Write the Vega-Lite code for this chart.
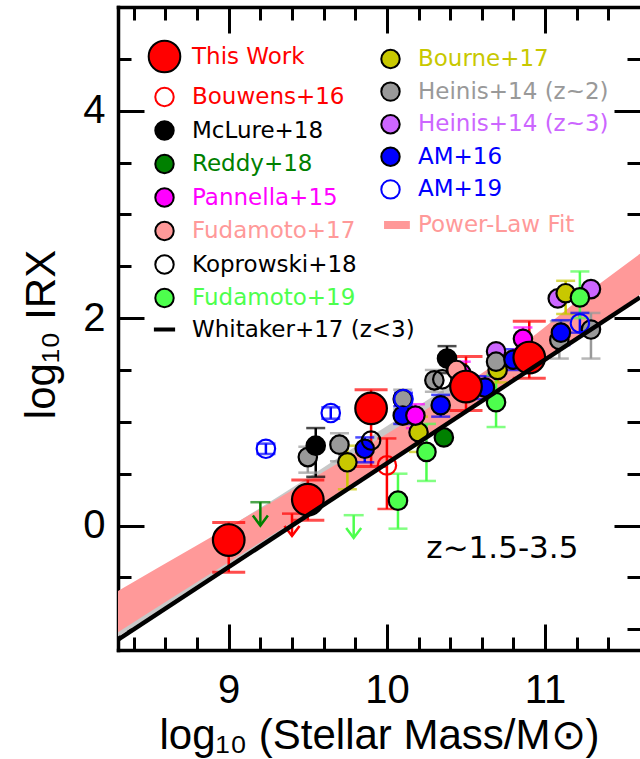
{
  "$schema": "https://vega.github.io/schema/vega-lite/v6.json",
  "width": 522,
  "height": 643,
  "autosize": {"type": "none"},
  "padding": {"left": 118, "top": 7, "right": 0, "bottom": 109},
  "background": "white",
  "config": {
    "view": {"stroke": null},
    "axis": {"grid": false, "labelColor": "black", "titleColor": "black", "tickColor": "black", "domainColor": "black", "zindex": 1}
  },
  "datasets": {
    "pts": [
      {"series": "Heinis+14 (z~3)", "mass": 10.69, "irx": 1.68},
      {"series": "Heinis+14 (z~3)", "mass": 11.08, "irx": 2.19},
      {"series": "Heinis+14 (z~3)", "mass": 11.29, "irx": 2.28},
      {"series": "Bourne+17", "mass": 9.75, "irx": 0.61, "lo": 0.35, "hi": 0.77},
      {"series": "Bourne+17", "mass": 10.2, "irx": 0.9, "lo": 0.71, "hi": 1.05},
      {"series": "Bourne+17", "mass": 10.7, "irx": 1.5, "lo": 1.38, "hi": 1.62},
      {"series": "Bourne+17", "mass": 11.13, "irx": 2.24, "lo": 2.04, "hi": 2.36},
      {"series": "Heinis+14 (z~2)", "mass": 9.5, "irx": 0.66, "lo": 0.51, "hi": 0.76},
      {"series": "Heinis+14 (z~2)", "mass": 9.7, "irx": 0.78, "lo": 0.62, "hi": 0.89},
      {"series": "Heinis+14 (z~2)", "mass": 10.1, "irx": 1.22, "lo": 1.12, "hi": 1.31},
      {"series": "Heinis+14 (z~2)", "mass": 10.3, "irx": 1.4, "lo": 1.29, "hi": 1.5},
      {"series": "Heinis+14 (z~2)", "mass": 10.69, "irx": 1.58, "lo": 1.47, "hi": 1.69},
      {"series": "Heinis+14 (z~2)", "mass": 11.09, "irx": 1.79, "lo": 1.61, "hi": 1.97},
      {"series": "Heinis+14 (z~2)", "mass": 11.29, "irx": 1.89, "lo": 1.61, "hi": 2.05},
      {"series": "AM+16", "mass": 9.86, "irx": 0.74, "lo": 0.61, "hi": 0.85},
      {"series": "AM+16", "mass": 10.1, "irx": 1.06, "lo": 0.98, "hi": 1.15},
      {"series": "AM+16", "mass": 10.34, "irx": 1.16, "lo": 1.05, "hi": 1.26},
      {"series": "AM+16", "mass": 10.62, "irx": 1.33, "lo": 1.22, "hi": 1.44},
      {"series": "AM+16", "mass": 10.8, "irx": 1.6, "lo": 1.5, "hi": 1.7},
      {"series": "AM+16", "mass": 11.1, "irx": 1.86, "lo": 1.74, "hi": 1.98},
      {"series": "AM+19", "mass": 9.235, "irx": 0.74, "lo": 0.69, "hi": 0.79},
      {"series": "AM+19", "mass": 9.645, "irx": 1.085, "lo": 1.03, "hi": 1.14},
      {"series": "AM+19", "mass": 10.105, "irx": 1.22, "lo": 1.16, "hi": 1.28},
      {"series": "AM+19", "mass": 11.22, "irx": 1.95, "lo": 1.86, "hi": 2.05},
      {"series": "Koprowski+18", "mass": 9.9, "irx": 0.82},
      {"series": "Koprowski+18", "mass": 10.35, "irx": 1.41},
      {"series": "McLure+18", "mass": 9.55, "irx": 0.77, "lo": 0.47, "hi": 0.94},
      {"series": "McLure+18", "mass": 10.38, "irx": 1.61, "lo": 1.47, "hi": 1.73},
      {"series": "Reddy+18", "mass": 10.36, "irx": 0.85},
      {"series": "Pannella+15", "mass": 10.18, "irx": 1.06, "lo": 0.94, "hi": 1.17},
      {"series": "Pannella+15", "mass": 10.47, "irx": 1.47, "lo": 1.36, "hi": 1.58},
      {"series": "Pannella+15", "mass": 10.86, "irx": 1.8, "lo": 1.7, "hi": 1.91},
      {"series": "Fudamoto+17", "mass": 10.44, "irx": 1.5},
      {"series": "Bouwens+16", "mass": 10.0, "irx": 0.58, "lo": 0.16, "hi": 0.84},
      {"series": "Fudamoto+19", "mass": 10.07, "irx": 0.24, "lo": -0.03, "hi": 0.5},
      {"series": "Fudamoto+19", "mass": 10.25, "irx": 0.71, "lo": 0.43, "hi": 0.98},
      {"series": "Fudamoto+19", "mass": 10.69, "irx": 1.19, "lo": 0.95, "hi": 1.45},
      {"series": "Fudamoto+19", "mass": 11.22, "irx": 2.2, "lo": 2.0, "hi": 2.45},
      {"series": "This Work", "mass": 9.0, "irx": -0.14, "lo": -0.45, "hi": 0.03},
      {"series": "This Work", "mass": 9.5, "irx": 0.25, "lo": 0.05, "hi": 0.44},
      {"series": "This Work", "mass": 9.9, "irx": 1.13, "lo": 0.57, "hi": 1.31},
      {"series": "This Work", "mass": 10.5, "irx": 1.34, "lo": 1.11, "hi": 1.63},
      {"series": "This Work", "mass": 10.9, "irx": 1.62, "lo": 1.42, "hi": 1.97}
    ],
    "limits": [
      {"series": "Reddy+18", "mass": 9.2, "cap": 0.225, "tip": 0.0},
      {"series": "Bouwens+16", "mass": 9.4, "cap": 0.115, "tip": -0.1},
      {"series": "Fudamoto+19", "mass": 9.79, "cap": 0.1, "tip": -0.12}
    ],
    "pink": [
      {"mass": 8.3, "lo": -1.03, "hi": -0.63},
      {"mass": 8.8, "lo": -0.545, "hi": -0.19},
      {"mass": 9.3, "lo": -0.065, "hi": 0.25},
      {"mass": 9.8, "lo": 0.415, "hi": 0.7},
      {"mass": 10.3, "lo": 0.905, "hi": 1.17},
      {"mass": 10.8, "lo": 1.405, "hi": 1.68},
      {"mass": 11.3, "lo": 1.915, "hi": 2.28},
      {"mass": 11.6, "lo": 2.225, "hi": 2.62}
    ],
    "gray": [
      {"mass": 8.3, "lo": -1.07, "hi": -0.7},
      {"mass": 9.0, "lo": -0.41, "hi": -0.02},
      {"mass": 9.5, "lo": 0.09, "hi": 0.46},
      {"mass": 9.9, "lo": 0.49, "hi": 0.86},
      {"mass": 10.45, "lo": 1.06, "hi": 1.4}
    ],
    "whitaker": [
      {"mass": 8.3, "irx": -1.1},
      {"mass": 11.6, "irx": 2.2}
    ],
    "notes": [
      {"text": "z~1.5-3.5", "mass": 10.73, "irx": -0.31}
    ]
  },
  "layer": [
    {
      "data": {"name": "gray"},
      "mark": {"type": "area", "color": "#c8c8c8", "clip": true, "interpolate": "monotone"},
      "encoding": {
        "x": {"field": "mass", "type": "quantitative", "scale": {"domain": [8.3, 11.6], "nice": false, "zero": false},
          "axis": {"orient": "bottom", "values": [9, 10, 11], "format": "d", "ticks": false, "domain": true, "domainWidth": 3.5, "domainCap": "square",
            "labelFont": "Liberation Sans", "labelFontSize": 40, "labelPadding": 20, "labelFlush": false, "labelOverlap": false, "labelBound": false,
            "title": "log₁₀ (Stellar Mass/M⊙)", "titleFont": "Liberation Sans", "titleFontSize": 42, "titleFontWeight": "normal", "titlePadding": 5}},
        "y": {"field": "lo", "type": "quantitative", "scale": {"domain": [-1.2, 5], "nice": false, "zero": false},
          "axis": {"orient": "left", "values": [0, 2, 4], "format": "d", "ticks": false, "domain": true, "domainWidth": 3.5, "domainCap": "square",
            "labelFont": "Liberation Sans", "labelFontSize": 40, "labelPadding": 13, "labelFlush": false, "labelOverlap": false, "labelBound": false,
            "title": "log₁₀ IRX", "titleFont": "Liberation Sans", "titleFontSize": 42, "titleFontWeight": "normal", "titlePadding": 19, "titleY": 327}},
        "y2": {"field": "hi"}
      }
    },
    {
      "data": {"name": "pink"},
      "mark": {"type": "area", "color": "#ff9999", "clip": true, "interpolate": "monotone"},
      "encoding": {
        "x": {"field": "mass", "type": "quantitative", "scale": {"domain": [8.3, 11.6], "nice": false, "zero": false},
          "axis": {"orient": "bottom", "values": [9, 10, 11], "labels": false, "domain": false, "ticks": true, "tickSize": -26, "tickWidth": 3, "title": null}},
        "y": {"field": "lo", "type": "quantitative", "scale": {"domain": [-1.2, 5], "nice": false, "zero": false},
          "axis": {"orient": "left", "values": [0, 2, 4], "labels": false, "domain": false, "ticks": true, "tickSize": -26, "tickWidth": 3, "title": null}},
        "y2": {"field": "hi"}
      }
    },
    {
      "data": {"name": "pts"},
      "transform": [{"filter": "isValid(datum.lo)"}],
      "mark": {"type": "rule", "strokeWidth": 2.5},
      "encoding": {
        "x": {"field": "mass", "type": "quantitative", "scale": {"domain": [8.3, 11.6], "nice": false, "zero": false},
          "axis": {"orient": "bottom", "values": [8.4, 8.6, 8.8, 9.2, 9.4, 9.6, 9.8, 10.2, 10.4, 10.6, 10.8, 11.2, 11.4], "labels": false, "domain": false, "ticks": true, "tickSize": -13, "tickWidth": 3, "title": null}},
        "y": {"field": "lo", "type": "quantitative", "scale": {"domain": [-1.2, 5], "nice": false, "zero": false},
          "axis": {"orient": "left", "values": [-1, -0.5, 0.5, 1, 1.5, 2.5, 3, 3.5, 4.5], "labels": false, "domain": false, "ticks": true, "tickSize": -13, "tickWidth": 3, "title": null}},
        "y2": {"field": "hi"},
        "color": {"field": "series", "type": "nominal", "legend": null,
          "scale": {"domain": ["This Work", "Bouwens+16", "McLure+18", "Reddy+18", "Pannella+15", "Fudamoto+17", "Koprowski+18", "Fudamoto+19", "Bourne+17", "Heinis+14 (z~2)", "Heinis+14 (z~3)", "AM+16", "AM+19"],
            "range": ["#ff0000", "#ff0000", "#000000", "#008000", "#ff00ff", "#ff9999", "#000000", "#4dff4d", "#c8c800", "#999999", "#cc66ff", "#0000ff", "#0000ff"]}}
      }
    },
    {
      "data": {"name": "pts"},
      "transform": [{"filter": "datum.series !== 'This Work'"}, {"fold": ["lo", "hi"], "as": ["end", "val"]}, {"filter": "isValid(datum.val)"}],
      "mark": {"type": "tick", "orient": "horizontal", "size": 19, "thickness": 2.5},
      "encoding": {
        "x": {"field": "mass", "type": "quantitative", "scale": {"domain": [8.3, 11.6], "nice": false, "zero": false},
          "axis": {"orient": "top", "values": [9, 10, 11], "labels": false, "domain": true, "domainWidth": 3.5, "domainCap": "square", "ticks": true, "tickSize": -26, "tickWidth": 3, "title": null}},
        "y": {"field": "val", "type": "quantitative", "scale": {"domain": [-1.2, 5], "nice": false, "zero": false},
          "axis": {"orient": "right", "values": [0, 2, 4], "labels": false, "domain": false, "ticks": true, "tickSize": -26, "tickWidth": 3, "title": null}},
        "color": {"field": "series", "type": "nominal", "legend": null,
          "scale": {"domain": ["This Work", "Bouwens+16", "McLure+18", "Reddy+18", "Pannella+15", "Fudamoto+17", "Koprowski+18", "Fudamoto+19", "Bourne+17", "Heinis+14 (z~2)", "Heinis+14 (z~3)", "AM+16", "AM+19"],
            "range": ["#ff0000", "#ff0000", "#000000", "#008000", "#ff00ff", "#ff9999", "#000000", "#4dff4d", "#c8c800", "#999999", "#cc66ff", "#0000ff", "#0000ff"]}}
      }
    },
    {
      "data": {"name": "pts"},
      "transform": [{"filter": "datum.series === 'This Work'"}, {"fold": ["lo", "hi"], "as": ["end", "val"]}, {"filter": "isValid(datum.val)"}],
      "mark": {"type": "tick", "orient": "horizontal", "size": 33, "thickness": 3},
      "encoding": {
        "x": {"field": "mass", "type": "quantitative", "scale": {"domain": [8.3, 11.6], "nice": false, "zero": false},
          "axis": {"orient": "top", "values": [8.4, 8.6, 8.8, 9.2, 9.4, 9.6, 9.8, 10.2, 10.4, 10.6, 10.8, 11.2, 11.4], "labels": false, "domain": false, "ticks": true, "tickSize": -13, "tickWidth": 3, "title": null}},
        "y": {"field": "val", "type": "quantitative", "scale": {"domain": [-1.2, 5], "nice": false, "zero": false},
          "axis": {"orient": "right", "values": [-1, -0.5, 0.5, 1, 1.5, 2.5, 3, 3.5, 4.5], "labels": false, "domain": false, "ticks": true, "tickSize": -13, "tickWidth": 3, "title": null}},
        "color": {"value": "#ff0000"}
      }
    },
    {
      "data": {"name": "limits"},
      "mark": {"type": "tick", "orient": "horizontal", "size": 20, "thickness": 2.5},
      "encoding": {
        "x": {"field": "mass", "type": "quantitative", "axis": null},
        "y": {"field": "cap", "type": "quantitative", "axis": null},
        "color": {"field": "series", "type": "nominal", "legend": null}
      }
    },
    {
      "data": {"name": "limits"},
      "mark": {"type": "rule", "strokeWidth": 2.5},
      "encoding": {
        "x": {"field": "mass", "type": "quantitative", "axis": null},
        "y": {"field": "cap", "type": "quantitative", "axis": null},
        "y2": {"field": "tip"},
        "color": {"field": "series", "type": "nominal", "legend": null}
      }
    },
    {
      "data": {"name": "limits"},
      "mark": {"type": "point", "shape": "M-1,-1.33L0,0L1,-1.33", "size": 225, "filled": false, "strokeWidth": 2.5, "opacity": 1},
      "encoding": {
        "x": {"field": "mass", "type": "quantitative", "axis": null},
        "y": {"field": "tip", "type": "quantitative", "axis": null},
        "color": {"field": "series", "type": "nominal", "legend": null}
      }
    },
    {
      "data": {"name": "pts"},
      "transform": [{"filter": {"field": "series", "oneOf": ["Bourne+17", "Heinis+14 (z~2)", "Heinis+14 (z~3)", "AM+16", "AM+19"]}}],
      "mark": {"type": "point", "shape": "circle", "strokeWidth": 2.2, "opacity": 1},
      "encoding": {
        "x": {"field": "mass", "type": "quantitative", "axis": null},
        "y": {"field": "irx", "type": "quantitative", "axis": null},
        "fill": {"field": "series", "type": "nominal", "legend": null,
          "scale": {"domain": ["Bourne+17", "Heinis+14 (z~2)", "Heinis+14 (z~3)", "AM+16", "AM+19", "Power-Law Fit"],
            "range": ["#c8c800", "#999999", "#cc66ff", "#0000ff", "transparent", "transparent"]}},
        "stroke": {"field": "series", "type": "nominal", "legend": null,
          "scale": {"domain": ["Bourne+17", "Heinis+14 (z~2)", "Heinis+14 (z~3)", "AM+16", "AM+19", "Power-Law Fit"],
            "range": ["#000000", "#000000", "#000000", "#000000", "#0000ff", "#ff9999"]}},
        "size": {"field": "series", "type": "nominal",
          "scale": {"type": "ordinal", "domain": ["Bourne+17", "Heinis+14 (z~2)", "Heinis+14 (z~3)", "AM+16", "AM+19", "Power-Law Fit"],
            "range": [340, 340, 340, 340, 340, 340]},
          "legend": {"orient": "none", "legendX": 261, "legendY": 40.5, "title": null, "columns": 1,
            "labelFont": "DejaVu Sans", "labelFontSize": 23, "labelLimit": 400, "labelOffset": 16, "rowPadding": 5.6, "symbolStrokeWidth": 2, "padding": 0,
            "encoding": {
              "labels": {"fill": {"value": {"expr": "({'Bourne+17':'#c8c800','Heinis+14 (z~2)':'#999999','Heinis+14 (z~3)':'#cc66ff','AM+16':'#0000ff','AM+19':'#0000ff','Power-Law Fit':'#ff9999'})[datum.label]"}}},
              "symbols": {
                "fill": {"value": {"expr": "({'Bourne+17':'#c8c800','Heinis+14 (z~2)':'#999999','Heinis+14 (z~3)':'#cc66ff','AM+16':'#0000ff'})[datum.label] || 'transparent'"}},
                "stroke": {"value": {"expr": "datum.label === 'AM+19' ? '#0000ff' : (datum.label === 'Power-Law Fit' ? '#ff9999' : '#000000')"}},
                "shape": {"value": {"expr": "datum.label === 'Power-Law Fit' ? 'M-0.7,0L2.1,0' : 'circle'"}},
                "strokeWidth": {"value": {"expr": "datum.label === 'Power-Law Fit' ? 8 : 2"}},
                "opacity": {"value": 1}
              }
            }}}
      }
    },
    {
      "data": {"name": "pts"},
      "transform": [{"filter": {"field": "series", "oneOf": ["This Work", "Bouwens+16", "McLure+18", "Reddy+18", "Pannella+15", "Fudamoto+17", "Koprowski+18", "Fudamoto+19"]}}],
      "mark": {"type": "point", "shape": "circle", "strokeWidth": 2.2, "opacity": 1},
      "encoding": {
        "x": {"field": "mass", "type": "quantitative", "axis": null},
        "y": {"field": "irx", "type": "quantitative", "axis": null},
        "fill": {"field": "series", "type": "nominal", "legend": null,
          "scale": {"domain": ["This Work", "Bouwens+16", "McLure+18", "Reddy+18", "Pannella+15", "Fudamoto+17", "Koprowski+18", "Fudamoto+19", "Whitaker+17 (z<3)"],
            "range": ["#ff0000", "transparent", "#000000", "#008000", "#ff00ff", "#ff9999", "transparent", "#4dff4d", "transparent"]}},
        "stroke": {"field": "series", "type": "nominal", "legend": null,
          "scale": {"domain": ["This Work", "Bouwens+16", "McLure+18", "Reddy+18", "Pannella+15", "Fudamoto+17", "Koprowski+18", "Fudamoto+19", "Whitaker+17 (z<3)"],
            "range": ["#000000", "#ff0000", "#000000", "#000000", "#000000", "#000000", "#000000", "#000000", "#000000"]}},
        "size": {"field": "series", "type": "nominal",
          "scale": {"type": "ordinal", "domain": ["This Work", "Bouwens+16", "McLure+18", "Reddy+18", "Pannella+15", "Fudamoto+17", "Koprowski+18", "Fudamoto+19", "Whitaker+17 (z<3)"],
            "range": [1000, 340, 340, 340, 340, 340, 340, 340, 340]},
          "legend": {"orient": "none", "legendX": 35, "legendY": 38, "title": null, "columns": 1,
            "labelFont": "DejaVu Sans", "labelFontSize": 23, "labelLimit": 400, "labelOffset": 16, "rowPadding": 6.5, "symbolStrokeWidth": 2, "padding": 0,
            "encoding": {
              "labels": {"fill": {"value": {"expr": "({'This Work':'#ff0000','Bouwens+16':'#ff0000','McLure+18':'#000000','Reddy+18':'#008000','Pannella+15':'#ff00ff','Fudamoto+17':'#ff9999','Koprowski+18':'#000000','Fudamoto+19':'#4dff4d','Whitaker+17 (z<3)':'#000000'})[datum.label]"}}},
              "symbols": {
                "fill": {"value": {"expr": "({'This Work':'#ff0000','McLure+18':'#000000','Reddy+18':'#008000','Pannella+15':'#ff00ff','Fudamoto+17':'#ff9999','Fudamoto+19':'#4dff4d'})[datum.label] || 'transparent'"}},
                "stroke": {"value": {"expr": "datum.label === 'Bouwens+16' ? '#ff0000' : '#000000'"}},
                "shape": {"value": {"expr": "datum.label === 'Whitaker+17 (z<3)' ? 'M-1.15,0L1.15,0' : 'circle'"}},
                "strokeWidth": {"value": {"expr": "datum.label === 'Whitaker+17 (z<3)' ? 4 : 2"}},
                "opacity": {"value": 1}
              }
            }}}
      }
    },
    {
      "data": {"name": "whitaker"},
      "mark": {"type": "line", "color": "#000000", "strokeWidth": 4.5, "clip": true},
      "encoding": {
        "x": {"field": "mass", "type": "quantitative", "axis": null},
        "y": {"field": "irx", "type": "quantitative", "axis": null}
      }
    },
    {
      "data": {"name": "notes"},
      "mark": {"type": "text", "font": "DejaVu Sans", "fontSize": 31, "align": "center", "baseline": "alphabetic", "color": "#000000"},
      "encoding": {
        "x": {"field": "mass", "type": "quantitative", "axis": null},
        "y": {"field": "irx", "type": "quantitative", "axis": null},
        "text": {"field": "text"}
      }
    }
  ],
  "resolve": {
    "scale": {"fill": "independent", "stroke": "independent", "size": "independent"},
    "axis": {"x": "independent", "y": "independent"}
  }
}
